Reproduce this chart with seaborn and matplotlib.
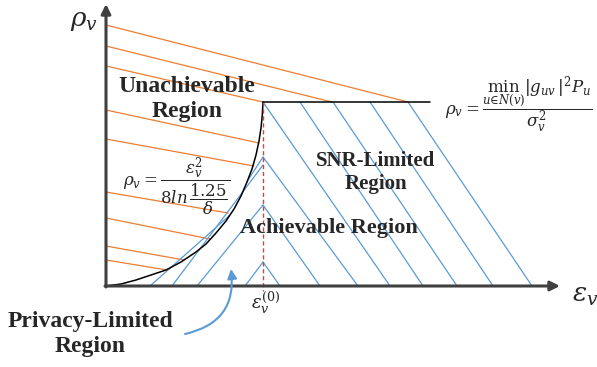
import matplotlib
matplotlib.use("Agg")
import matplotlib.pyplot as plt
import numpy as np
import pandas as pd
import seaborn as sns

# all values in pixel-like units, origin at the corner of the two axes
# boundary curve between achievable / unachievable region
curve_x = [0, 15, 30, 45, 60, 75, 90, 100, 110, 120, 128, 135, 141, 146,
           150, 153, 155, 156.3, 157]
curve_h = [0, 2, 6, 11, 16, 24, 34, 42, 53, 65, 77, 90, 104, 117,
           131, 145, 158, 171, 184]

# SNR limit (horizontal line) and the eps_v^(0) marker
eps0 = 157
snr_level = 184
snr_end = 324

# orange hatching of the unachievable region: start on the rho axis, end on the boundary
orange_h0 = [261, 240, 220, 176, 147, 94, 68, 40, 26]
orange_x1 = [302, 226, 157, 153, 148, 122, 104, 78, 61]
orange_h1 = [184, 184, 184, 143, 120, 73, 47, 26, 16]

# blue hatching, lines falling to the right (start point -> x-axis)
fall_x0 = [157, 157, 157, 157, 194, 227, 264, 302]
fall_h0 = [24, 81, 129, 184, 184, 184, 184, 184]
fall_x1 = [174, 214, 252, 284, 317, 351, 387, 426]

# blue hatching, lines rising to the right (start -> end)
rise_x0 = [44, 66, 91, 139, 142]
rise_h0 = [0, 0, 0, 0, 106]
rise_x1 = [124, 157, 157, 157, 157]
rise_h1 = [71, 121, 81, 24, 129]

ORANGE = "#ED7D31"
BLUE = "#5B9BD5"
DARK = "#404040"

sns.set_theme(style="white")
plt.rcParams["mathtext.fontset"] = "dejavuserif"

# long-form table of hatch segments for seaborn
rows = []
seg = 0
for h0, x1, h1 in zip(orange_h0, orange_x1, orange_h1):
    rows += [(seg, "unach", 0, h0), (seg, "unach", x1, h1)]
    seg += 1
for x0, h0, x1 in zip(fall_x0, fall_h0, fall_x1):
    rows += [(seg, "ach", x0, h0), (seg, "ach", x1, 0)]
    seg += 1
for x0, h0, x1, h1 in zip(rise_x0, rise_h0, rise_x1, rise_h1):
    rows += [(seg, "ach", x0, h0), (seg, "ach", x1, h1)]
    seg += 1
hatch = pd.DataFrame(rows, columns=["seg", "kind", "x", "h"])

fig = plt.figure(figsize=(5.97, 3.67), dpi=100)
ax = fig.add_axes([0, 0, 1, 1])
ax.set_xlim(-106, 491)
ax.set_ylim(-81, 286)

sns.lineplot(data=hatch, x="x", y="h", units="seg", hue="kind", estimator=None,
             sort=False, palette={"unach": ORANGE, "ach": BLUE}, lw=0.9,
             legend=False, ax=ax)

# boundary curve and SNR limit
sns.lineplot(x=curve_x, y=curve_h, sort=False, color="black", lw=1.1, ax=ax)
ax.plot([eps0, snr_end], [snr_level, snr_level], color="black", lw=1.1)
ax.plot([eps0, eps0], [snr_level, -5], color="#E8383D", lw=1.0,
        dashes=(3, 2))

# axes with arrow heads
arrow = dict(arrowstyle="-|>", lw=2.2, color=DARK, mutation_scale=14,
             shrinkA=0, shrinkB=0)
ax.annotate("", xy=(0, 282), xytext=(0, -1), arrowprops=arrow)
ax.annotate("", xy=(454, 0), xytext=(-1, 0), arrowprops=arrow)

ax.text(-22, 266, r"$\rho_v$", fontsize=19, ha="center", va="center")
ax.text(479, -9, r"$\epsilon_v$", fontsize=19, ha="center", va="center")
ax.text(145, -3, r"$\epsilon_v^{(0)}$", fontsize=13, ha="left", va="top")

# region names
bold = dict(family="Liberation Serif", fontweight="bold", color="#262626",
            ha="center", va="center", linespacing=1.2)
ax.text(81, 187, "Unachievable\nRegion", fontsize=17, **bold)
ax.text(270, 113, "SNR-Limited\nRegion", fontsize=15, **bold)
ax.text(223, 58, "Achievable Region", fontsize=16, **bold)
ax.text(-16, -48, "Privacy-Limited\nRegion", fontsize=17, **bold)

# formulas
ax.text(17, 99, r"$\rho_v = \dfrac{\epsilon_v^2}{8ln\,\dfrac{1.25}{\delta}}$",
        fontsize=12, ha="left", va="center")
ax.text(339, 181,
        r"$\rho_v = \dfrac{\min_{u\in N(v)}|g_{uv}|^2P_u}{\sigma_v^2}$",
        fontsize=12, ha="left", va="center")

# curved arrow pointing at the privacy-limited part
ax.annotate("", xy=(125, 17), xytext=(79, -48),
            arrowprops=dict(arrowstyle="-|>", lw=1.5, color=BLUE,
                            mutation_scale=14, shrinkA=0, shrinkB=0,
                            connectionstyle="arc3,rad=0.45"))

ax.set_axis_off()
fig.savefig("out.png", dpi=100)
